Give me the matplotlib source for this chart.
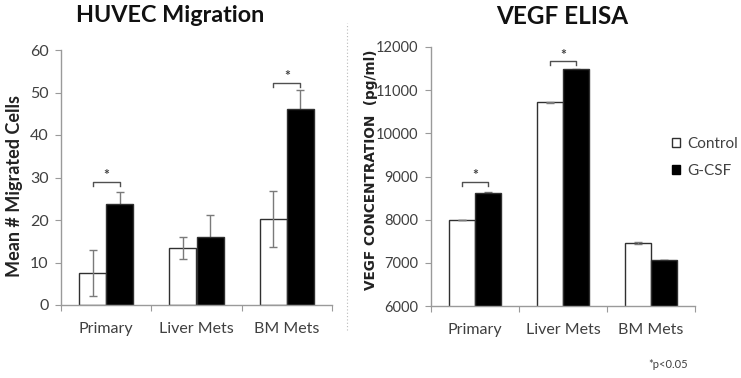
import matplotlib
matplotlib.use("Agg")
import matplotlib.pyplot as plt
from matplotlib.patches import Patch
from matplotlib.lines import Line2D
import numpy as np

plt.rcParams['font.family'] = ['Lato', 'DejaVu Sans']

categories = ['Primary', 'Liver Mets', 'BM Mets']
series = ['Control', 'G-CSF']

# HUVEC migration (mean # migrated cells)
mig_control = [7.6, 13.4, 20.3]
mig_control_err = [5.4, 2.6, 6.6]
mig_gcsf = [23.8, 16.1, 46.1]
mig_gcsf_err = [2.8, 5.1, 4.4]
mig_sig = [0, 2]            # categories with significance bracket
mig_sig_y = [28.9, 52.2]

# VEGF ELISA (pg/ml)
vegf_control = [8000, 10720, 7460]
vegf_control_err = [0, 10, 20]
vegf_gcsf = [8610, 11480, 7060]
vegf_gcsf_err = [40, 20, 0]
vegf_sig = [0, 1]
vegf_sig_y = [8870, 11670]

txt = '#404040'
spine = '#9a9a9a'
errc = '#7a7a7a'

fig = plt.figure(figsize=(7.41, 3.78), dpi=100)
ax1 = fig.add_axes([61 / 741, 73 / 378, 271 / 741, 255 / 378])
ax2 = fig.add_axes([431 / 741, 72 / 378, 264 / 741, 259 / 378])

w = 0.3
x = np.arange(len(categories))


def draw(ax, ctrl, ctrl_err, gcsf, gcsf_err, sig, sig_y, ylim, step, tick_h):
    ax.bar(x - w / 2, ctrl, w, color='white', edgecolor='#303030', linewidth=1.0, zorder=2)
    ax.bar(x + w / 2, gcsf, w, color='black', edgecolor='#303030', linewidth=1.0, zorder=2)
    ax.errorbar(x - w / 2, ctrl, yerr=ctrl_err, fmt='none', ecolor=errc,
                elinewidth=1.0, capsize=3, capthick=1.0, zorder=3)
    ax.errorbar(x + w / 2, gcsf, yerr=gcsf_err, fmt='none', ecolor=errc,
                elinewidth=1.0, capsize=3, capthick=1.0, zorder=1)
    for i, yb in zip(sig, sig_y):
        ax.plot([i - w / 2, i - w / 2, i + w / 2, i + w / 2],
                [yb - tick_h, yb, yb, yb - tick_h], color='#505050', lw=1.0)
        ax.text(i, yb + tick_h * 0.2, '*', ha='center', va='bottom',
                fontsize=10, fontweight='bold', color=txt)
    ax.set_xlim(-0.5, 2.5)
    ax.set_ylim(*ylim)
    ax.set_yticks(np.arange(ylim[0], ylim[1] + 1, step))
    ax.set_xticks([-0.5, 0.5, 1.5, 2.5])
    ax.set_xticklabels([])
    ax.set_xticks(x, minor=True)
    ax.set_xticklabels(categories, minor=True)
    ax.tick_params(axis='x', which='major', length=4, color=spine, direction='out')
    ax.tick_params(axis='x', which='minor', length=0, pad=12, labelsize=11.5, labelcolor=txt)
    ax.tick_params(axis='y', length=4, color=spine, direction='out', labelsize=11.5,
                   labelcolor=txt, pad=5)
    for s in ['top', 'right']:
        ax.spines[s].set_visible(False)
    for s in ['left', 'bottom']:
        ax.spines[s].set_color(spine)
        ax.spines[s].set_linewidth(1.0)


draw(ax1, mig_control, mig_control_err, mig_gcsf, mig_gcsf_err, mig_sig, mig_sig_y,
     (0, 60), 10, 0.9)
draw(ax2, vegf_control, vegf_control_err, vegf_gcsf, vegf_gcsf_err, vegf_sig, vegf_sig_y,
     (6000, 12000), 1000, 80)
ax2.tick_params(axis='y', labelsize=10.5)

ax1.set_ylabel('Mean # Migrated Cells', fontsize=13, fontweight='bold', color='#222222')
ax1.yaxis.set_label_coords(-38 / 271, (305 - 186) / 255)
ax2.set_ylabel('VEGF CONCENTRATION  (pg/ml)', fontsize=9.8, fontweight='bold',
               family='DejaVu Sans', color='#222222')
ax2.yaxis.set_label_coords(-53 / 264, (306 - 170) / 259)

fig.text(170 / 741, 1 - 16 / 378, 'HUVEC Migration', ha='center', va='center',
         fontsize=16.8, fontweight='bold', color='#111111')
fig.text(562 / 741, 1 - 16 / 378, 'VEGF ELISA', ha='center', va='center',
         fontsize=17.5, fontweight='bold', color='#111111')

handles = [Patch(facecolor='white', edgecolor='#303030', lw=1.0),
           Patch(facecolor='black', edgecolor='black', lw=1.0)]
fig.legend(handles, series, loc='center left', bbox_to_anchor=(672 / 741, 1 - 157.5 / 378),
           frameon=False, fontsize=11, handlelength=0.55, handleheight=0.55,
           handletextpad=0.45, labelspacing=0.85, labelcolor=txt, borderaxespad=0,
           borderpad=0)

fig.add_artist(Line2D([347 / 741, 347 / 741], [48 / 378, 355 / 378],
                      color='#bbbbbb', lw=0.8, linestyle=(0, (1, 2))))

fig.text(648 / 741, 13 / 378, '*p<0.05', ha='left', va='center', fontsize=8, color=txt)

fig.savefig('out.png', dpi=100)
